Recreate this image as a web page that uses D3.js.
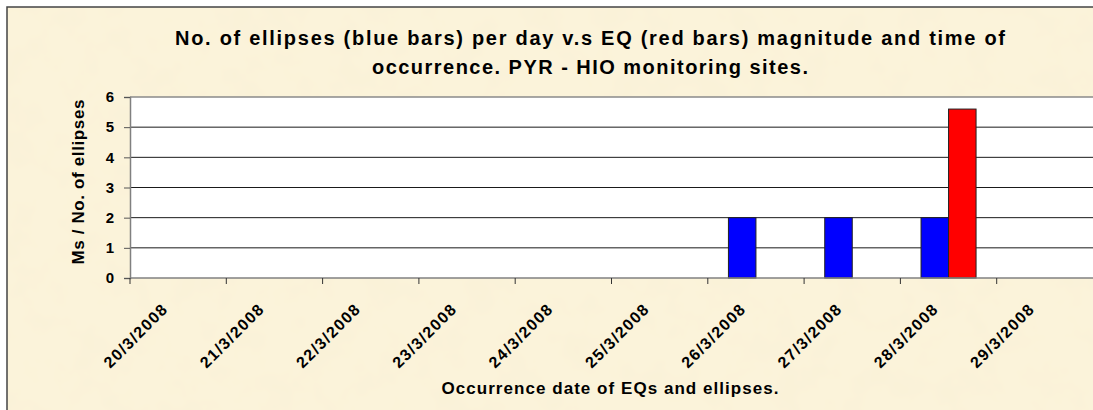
<!DOCTYPE html>
<html>
<head>
<meta charset="utf-8">
<script src="https://cdn.jsdelivr.net/npm/d3@7"></script>
<style>
    html, body { margin: 0; padding: 0; background: #fff; }
    svg { display: block; font-family: Arial, "Liberation Sans", sans-serif; }
</style>
</head>
<body>
<svg id="chart" width="1093" height="410"></svg>
<script>
// categories (x axis) and the two series
var dates = ["20/3/2008", "21/3/2008", "22/3/2008", "23/3/2008", "24/3/2008",
             "25/3/2008", "26/3/2008", "27/3/2008", "28/3/2008", "29/3/2008"];
var ellipses = [0, 0, 0, 0, 0, 0, 2, 2, 2, 0];
var eqMagnitude = [0, 0, 0, 0, 0, 0, 0, 0, 5.6, 0];
var yTicks = [0, 1, 2, 3, 4, 5, 6];

var titleLines = ["No. of ellipses (blue bars) per day v.s EQ (red bars) magnitude and time of",
                  "occurrence. PYR - HIO monitoring sites."];
var yTitle = "Ms / No. of ellipses";
var xTitle = "Occurrence date of EQs and ellipses.";

var svg = d3.select('#chart');

// paper-like background
var defs = svg.append('defs');
var paper = defs.append('filter').attr('id', 'paper')
    .attr('x', 0).attr('y', 0).attr('width', '100%').attr('height', '100%');
paper.append('feTurbulence')
    .attr('type', 'fractalNoise')
    .attr('baseFrequency', 0.03)
    .attr('numOctaves', 3)
    .attr('seed', 7);
paper.append('feColorMatrix')
    .attr('type', 'matrix')
    .attr('values', '0 0 0 0 0.93  0 0 0 0 0.85  0 0 0 0 0.64  0.6 0 0 0 -0.25');

svg.append('rect')
    .attr('x', 7).attr('y', 7)
    .attr('width', 1200).attr('height', 500)
    .style('fill', '#fbf3da')
    .style('stroke', '#444')
    .style('stroke-width', 1.5);
svg.append('rect')
    .attr('x', 8).attr('y', 8)
    .attr('width', 1100).attr('height', 410)
    .attr('filter', 'url(#paper)');

// plot area
var plotL = 130, plotR = 1093, plotT = 97, plotB = 278;

var x0 = d3.scaleBand()
    .domain(dates)
    .range([plotL, plotR])
    .paddingInner(0)
    .paddingOuter(0);

var x1 = d3.scaleBand()
    .domain(['ellipses', 'eq'])
    .range([0, x0.bandwidth()])
    .paddingInner(0)
    .paddingOuter(0.75);

var yScale = d3.scaleLinear()
    .domain([0, 6])
    .range([plotB, plotT]);

svg.append('rect')
    .attr('x', plotL).attr('y', plotT)
    .attr('width', plotR - plotL).attr('height', plotB - plotT)
    .style('fill', '#fff');

// gridlines
svg.append('g')
    .selectAll('line')
    .data(yTicks.filter(function(d) { return d > 0 && d < 6; }))
    .enter()
    .append('line')
    .attr('x1', plotL).attr('x2', plotR)
    .attr('y1', function(d) { return yScale(d); })
    .attr('y2', function(d) { return yScale(d); })
    .style('stroke', '#1a1a1a')
    .style('stroke-width', 1);

// top border of plot area
svg.append('line')
    .attr('x1', plotL).attr('x2', plotR)
    .attr('y1', yScale(6)).attr('y2', yScale(6))
    .style('stroke', '#8a8a8a')
    .style('stroke-width', 1.5);

// bars
var rows = dates.map(function(d, i) {
    return { date: d, values: [
        { key: 'ellipses', value: ellipses[i], color: '#0000ff' },
        { key: 'eq', value: eqMagnitude[i], color: '#ff0000' }
    ] };
});

svg.append('g')
    .selectAll('g')
    .data(rows)
    .enter()
    .append('g')
    .attr('transform', function(d) { return 'translate(' + x0(d.date) + ',0)'; })
    .selectAll('rect')
    .data(function(d) { return d.values.filter(function(v) { return v.value > 0; }); })
    .enter()
    .append('rect')
    .attr('x', function(d) { return x1(d.key); })
    .attr('y', function(d) { return yScale(d.value); })
    .attr('width', x1.bandwidth())
    .attr('height', function(d) { return yScale(0) - yScale(d.value); })
    .style('fill', function(d) { return d.color; })
    .style('stroke', '#222')
    .style('stroke-width', 1);

// y axis
var yAxis = d3.axisLeft(yScale)
    .tickValues(yTicks)
    .tickFormat(d3.format('d'))
    .tickSize(6)
    .tickPadding(10);

var gy = svg.append('g')
    .attr('transform', 'translate(' + plotL + ',0)')
    .call(yAxis);
gy.select('.domain').style('stroke', '#808080').style('stroke-width', 1.5);
gy.selectAll('.tick line').style('stroke', '#555');
gy.selectAll('.tick text')
    .style('font-size', '15px')
    .style('font-weight', 'bold')
    .style('fill', '#000')
    .attr('font-family', null);

// x axis: ticks at category boundaries
svg.append('line')
    .attr('x1', plotL).attr('x2', plotR)
    .attr('y1', plotB).attr('y2', plotB)
    .style('stroke', '#808080')
    .style('stroke-width', 1.5);

svg.append('g')
    .selectAll('line')
    .data(dates)
    .enter()
    .append('line')
    .attr('x1', function(d) { return x0(d); })
    .attr('x2', function(d) { return x0(d); })
    .attr('y1', plotB).attr('y2', plotB + 6)
    .style('stroke', '#333')
    .style('stroke-width', 1);

// rotated date labels
svg.append('g')
    .selectAll('text')
    .data(dates)
    .enter()
    .append('text')
    .attr('transform', function(d) {
        return 'translate(' + (x0(d) + x0.bandwidth() / 2 - 10) + ',' + 311 + ') rotate(-45)';
    })
    .attr('text-anchor', 'end')
    .attr('textLength', 82)
    .attr('lengthAdjust', 'spacing')
    .style('font-size', '16px')
    .style('font-weight', 'bold')
    .text(function(d) { return d; });

// titles
svg.append('g')
    .selectAll('text')
    .data(titleLines)
    .enter()
    .append('text')
    .attr('x', 590)
    .attr('y', function(d, i) { return 45 + i * 29; })
    .attr('text-anchor', 'middle')
    .attr('textLength', function(d, i) { return i === 0 ? 830 : 436; })
    .attr('lengthAdjust', 'spacing')
    .style('font-size', '20px')
    .style('font-weight', 'bold')
    .text(function(d) { return d; });

svg.append('text')
    .attr('transform', 'translate(84,' + 182 + ') rotate(-90)')
    .attr('text-anchor', 'middle')
    .attr('textLength', 165)
    .attr('lengthAdjust', 'spacing')
    .style('font-size', '17px')
    .style('font-weight', 'bold')
    .text(yTitle);

svg.append('text')
    .attr('x', 610)
    .attr('y', 394)
    .attr('text-anchor', 'middle')
    .attr('textLength', 337)
    .attr('lengthAdjust', 'spacing')
    .style('font-size', '17px')
    .style('font-weight', 'bold')
    .text(xTitle);
</script>
</body>
</html>
